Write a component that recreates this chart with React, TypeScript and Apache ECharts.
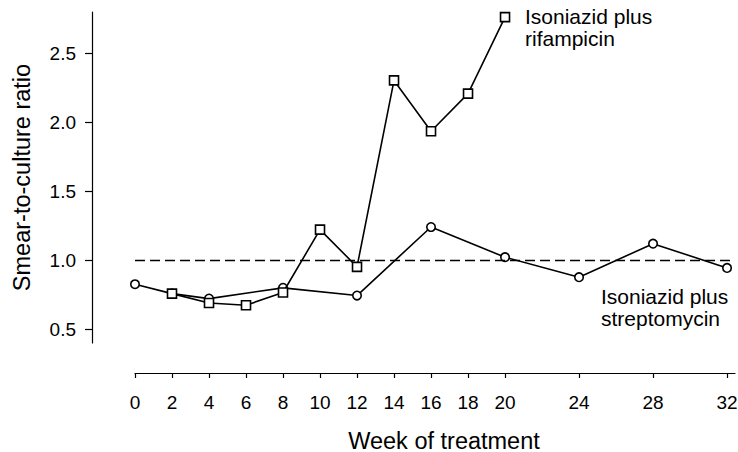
import React, { useEffect, useRef } from "react";
import * as echarts from "echarts";

const xTickValues = [0, 2, 4, 6, 8, 10, 12, 14, 16, 18, 20, 24, 28, 32];
const yTickValues = [0.5, 1.0, 1.5, 2.0, 2.5];

const streptoWeeks = [0, 2, 4, 8, 12, 16, 20, 24, 28, 32];
const streptoRatio = [0.826, 0.758, 0.722, 0.8, 0.744, 1.241, 1.022, 0.877, 1.12, 0.944];

const rifWeeks = [2, 4, 6, 8, 10, 12, 14, 16, 18, 20];
const rifRatio = [0.758, 0.69, 0.674, 0.766, 1.222, 0.952, 2.304, 1.935, 2.208, 2.763];

const referenceRatio = 1.0;

const FONT = '"Liberation Sans", Arial, Helvetica, sans-serif';

export default function App() {
  const ref = useRef<HTMLDivElement>(null);
  useEffect(() => {
    if (!ref.current) return;
    const chart = echarts.init(ref.current, null, { renderer: "svg" });
    const pairs = (xs: number[], ys: number[]) => xs.map((x, i) => [x, ys[i]]);
    chart.setOption({
      animation: false,
      backgroundColor: "#ffffff",
      textStyle: { fontFamily: FONT, color: "#000" },
      grid: { left: 135, right: 3, top: 12, bottom: 109, containLabel: false, outerBoundsMode: "none" },
      xAxis: {
        type: "value",
        min: 0,
        max: 32.43,
        offset: 30,
        name: "Week of treatment",
        nameLocation: "middle",
        nameGap: 57,
        nameTextStyle: {
          fontSize: 23.5,
          lineHeight: 21,
          color: "#000",
          fontFamily: FONT,
          padding: [0, 0, 0, 18],
        },
        splitLine: { show: false },
        axisLine: { show: true, onZero: false, lineStyle: { color: "#000", width: 1.2 } },
        axisTick: {
          show: true,
          length: 5,
          inside: false,
          customValues: xTickValues,
          lineStyle: { color: "#000", width: 1.2 },
        },
        axisLabel: {
          show: true,
          margin: 20,
          fontSize: 19,
          color: "#000",
          fontFamily: FONT,
          customValues: xTickValues,
          formatter: (v: number) => String(v),
        },
      },
      yAxis: {
        type: "value",
        min: 0.4,
        max: 2.8,
        offset: 43,
        name: "Smear-to-culture ratio",
        nameLocation: "middle",
        nameGap: 58,
        nameTextStyle: { fontSize: 23.5, color: "#000", fontFamily: FONT },
        splitLine: { show: false },
        axisLine: { show: true, onZero: false, lineStyle: { color: "#000", width: 1.2 } },
        axisTick: {
          show: true,
          length: 7,
          customValues: yTickValues,
          lineStyle: { color: "#000", width: 1.2 },
        },
        axisLabel: {
          show: true,
          margin: 16,
          fontSize: 19,
          color: "#000",
          fontFamily: FONT,
          customValues: yTickValues,
          formatter: (v: number) => v.toFixed(1),
        },
      },
      graphic: [
        {
          type: "text",
          left: 525,
          top: 5,
          style: {
            text: "Isoniazid plus\nrifampicin",
            font: `21px ${FONT}`,
            lineHeight: 22,
            fill: "#000",
          },
        },
        {
          type: "text",
          left: 601,
          top: 285,
          style: {
            text: "Isoniazid plus\nstreptomycin",
            font: `21px ${FONT}`,
            lineHeight: 22,
            fill: "#000",
          },
        },
      ],
      series: [
        {
          name: "Isoniazid plus streptomycin",
          type: "line",
          data: pairs(streptoWeeks, streptoRatio),
          symbol: "circle",
          symbolSize: 8.5,
          lineStyle: { color: "#000", width: 1.6 },
          itemStyle: { color: "#fff", borderColor: "#000", borderWidth: 1.6 },
          z: 2,
          markLine: {
            silent: true,
            symbol: "none",
            label: { show: false },
            lineStyle: { color: "#000", width: 1.3, type: [10, 5] },
            data: [{ yAxis: referenceRatio }],
          },
        },
        {
          name: "Isoniazid plus rifampicin",
          type: "line",
          data: pairs(rifWeeks, rifRatio),
          symbol: "rect",
          symbolSize: 9,
          lineStyle: { color: "#000", width: 1.6 },
          itemStyle: { color: "#fff", borderColor: "#000", borderWidth: 1.6 },
          z: 3,
        },
      ],
    });
    return () => chart.dispose();
  }, []);
  return (
    <div
      ref={ref}
      style={{ position: "fixed", left: 0, top: 0, width: 738, height: 452, background: "#fff" }}
    />
  );
}
